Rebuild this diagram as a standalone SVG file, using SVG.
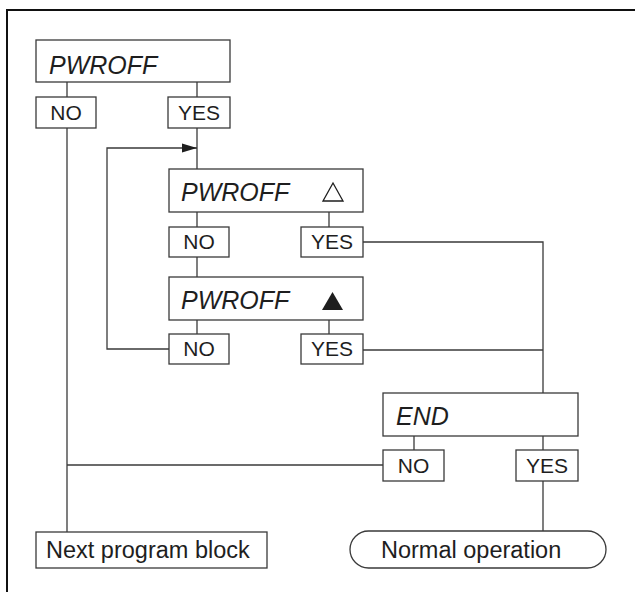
<svg xmlns="http://www.w3.org/2000/svg" width="635" height="592" viewBox="0 0 635 592">
<defs>
<style>
.box{fill:#fff;stroke:#3a3a3a;stroke-width:1.3}
.ln{fill:none;stroke:#3a3a3a;stroke-width:1.3}
.t{font-family:"Liberation Sans",Arial,sans-serif;fill:#1e1e1e}
.it{font-style:italic;font-size:25px}
.yn{font-size:21px;text-anchor:middle}
.lb{font-size:23.5px}
</style>
<marker id="ah" markerWidth="15" markerHeight="10" refX="15" refY="5" orient="auto" markerUnits="userSpaceOnUse">
<path d="M0,0.5 L15,5 L0,9.5 Z" fill="#1e1e1e"/>
</marker>
</defs>
<rect width="635" height="592" fill="#fff"/>
<path d="M7,592 V10 H635" fill="none" stroke="#111" stroke-width="2"/>
<g id="connectors">
<path class="ln" d="M67,82 V97"/>
<path class="ln" d="M197,82 V97"/>
<path class="ln" d="M67,128 V532"/>
<path class="ln" d="M197,128 V169"/>
<path class="ln" d="M169,349 H107 V148 H197" marker-end="url(#ah)"/>
<path class="ln" d="M197,212 V227"/>
<path class="ln" d="M329,212 V227"/>
<path class="ln" d="M197,257 V277"/>
<path class="ln" d="M197,320 V334"/>
<path class="ln" d="M329,320 V334"/>
<path class="ln" d="M363,242 H543 V393"/>
<path class="ln" d="M363,350 H543"/>
<path class="ln" d="M414,436 V450"/>
<path class="ln" d="M543,436 V450"/>
<path class="ln" d="M383,465 H67"/>
<path class="ln" d="M543,481 V531"/>
</g>
<g id="pwroff1"><rect class="box" x="36" y="40" width="194" height="42"/><text class="t it" x="49" y="74">PWROFF</text></g>
<g id="no1"><rect class="box" x="36" y="97" width="60" height="31"/><text class="t yn" x="66" y="120">NO</text></g>
<g id="yes1"><rect class="box" x="168" y="97" width="62" height="31"/><text class="t yn" x="199" y="120">YES</text></g>
<g id="pwroff2"><rect class="box" x="169" y="169" width="194" height="43"/><text class="t it" x="181" y="201">PWROFF</text><polygon points="323,201 333,183 343,201" fill="none" stroke="#1e1e1e" stroke-width="1.3"/></g>
<g id="no2"><rect class="box" x="169" y="227" width="60" height="30"/><text class="t yn" x="199" y="249">NO</text></g>
<g id="yes2"><rect class="box" x="301" y="227" width="62" height="30"/><text class="t yn" x="332" y="249">YES</text></g>
<g id="pwroff3"><rect class="box" x="169" y="277" width="194" height="43"/><text class="t it" x="181" y="309">PWROFF</text><polygon points="322,310 332.5,292 343,310" fill="#1e1e1e"/></g>
<g id="no3"><rect class="box" x="169" y="334" width="60" height="30"/><text class="t yn" x="199" y="356">NO</text></g>
<g id="yes3"><rect class="box" x="301" y="334" width="62" height="30"/><text class="t yn" x="332" y="356">YES</text></g>
<g id="end"><rect class="box" x="383" y="393" width="195" height="43"/><text class="t it" x="396" y="425">END</text></g>
<g id="no4"><rect class="box" x="383" y="450" width="61" height="31"/><text class="t yn" x="413.5" y="473">NO</text></g>
<g id="yes4"><rect class="box" x="516" y="450" width="62" height="31"/><text class="t yn" x="547" y="473">YES</text></g>
<g id="next"><rect class="box" x="36" y="532" width="231" height="36"/><text class="t lb" x="46" y="558">Next program block</text></g>
<g id="normal"><rect class="box" x="350" y="531" width="256" height="37" rx="18.5" ry="18.5"/><text class="t lb" x="381" y="558">Normal operation</text></g>
</svg>
